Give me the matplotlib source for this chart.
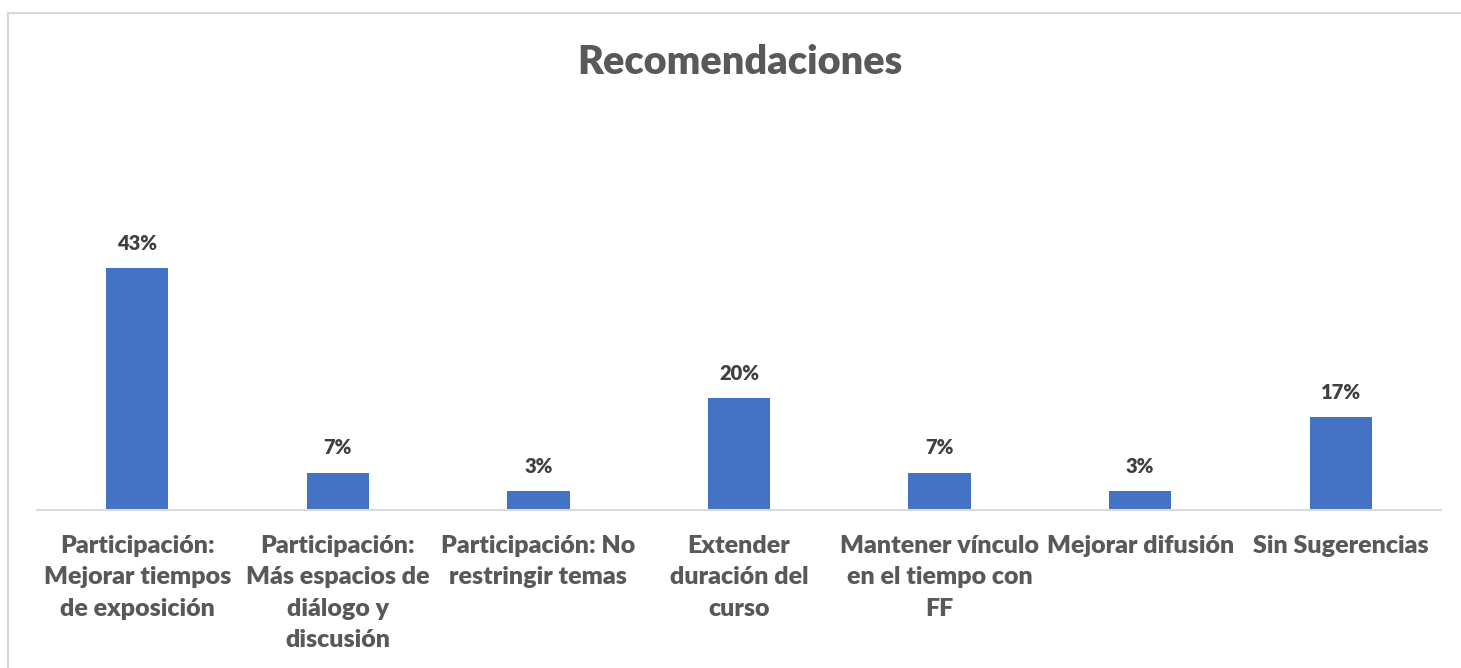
import matplotlib.pyplot as plt
from matplotlib.patches import Rectangle

# data (30 answers -> 13, 2, 1, 6, 2, 1, 5)
categories = [
    "Participación:\nMejorar tiempos\nde exposición",
    "Participación:\nMás espacios de\ndiálogo y\ndiscusión",
    "Participación: No\nrestringir temas",
    "Extender\nduración del\ncurso",
    "Mantener vínculo\nen el tiempo con\nFF",
    "Mejorar difusión",
    "Sin Sugerencias",
]
values = [43.33, 6.67, 3.33, 20.0, 6.67, 3.33, 16.67]
labels = ["43%", "7%", "3%", "20%", "7%", "3%", "17%"]

plt.rcParams['font.family'] = ['Lato', 'DejaVu Sans']

W, H = 1461, 668
fig = plt.figure(figsize=(W / 100, H / 100), dpi=100)
fig.patch.set_facecolor('white')

# chart border
fig.patches.append(Rectangle((8 / W, -0.1), 1.2, 1 - 13 / H + 0.1,
                             transform=fig.transFigure, fill=False,
                             edgecolor='#D9D9D9', linewidth=1.5))

ax = fig.add_axes([37 / W, 1 - 510 / H, (1441 - 37) / W, 279.5 / H])
x = range(len(categories))
ax.bar(x, values, width=0.31, color='#4472C4')
ax.set_xlim(-0.5, len(categories) - 0.5)
ax.set_ylim(0, 50)

for xi, v, lab in zip(x, values, labels):
    ax.annotate(lab, (xi, v), xytext=(0, 11), textcoords='offset points',
                ha='center', va='bottom', fontsize=14.5, fontweight='heavy',
                color='#404040')

ax.set_xticks(list(x))
ax.set_xticklabels(categories, fontsize=18, fontweight='heavy', color='#595959',
                   linespacing=1.52, va='top')
ax.tick_params(axis='x', length=0, pad=18)
ax.set_yticks([])
for s in ['top', 'left', 'right']:
    ax.spines[s].set_visible(False)
ax.spines['bottom'].set_color('#D9D9D9')
ax.spines['bottom'].set_linewidth(1.5)

fig.text(740 / W, 1 - 62 / H, "Recomendaciones", ha='center', va='center',
         fontsize=28.5, fontweight='heavy', color='#595959')

fig.savefig('out.png', dpi=100)
